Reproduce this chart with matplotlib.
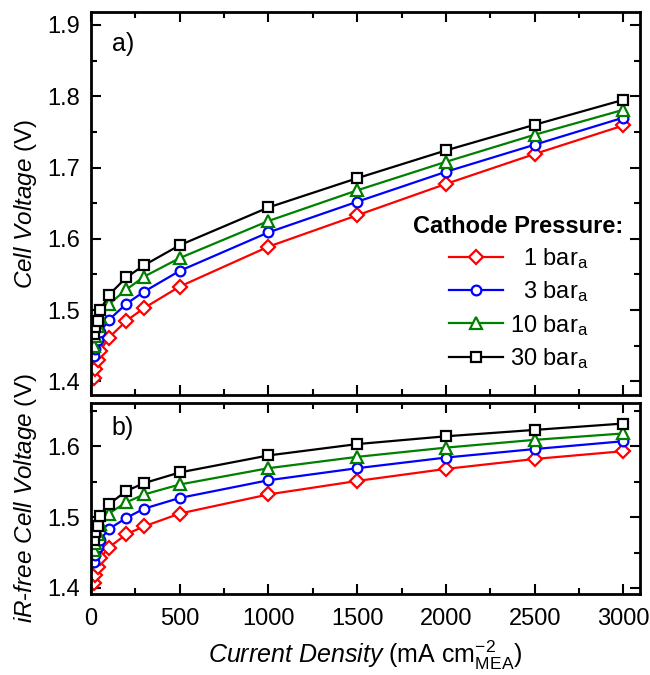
import matplotlib
matplotlib.use("Agg")
import matplotlib.pyplot as plt
from matplotlib.ticker import MultipleLocator

plt.rcParams['font.family'] = ['Liberation Sans', 'DejaVu Sans']
plt.rcParams['mathtext.fontset'] = 'custom'
plt.rcParams['mathtext.rm'] = 'Liberation Sans'
plt.rcParams['mathtext.it'] = 'Liberation Sans:italic'
plt.rcParams['mathtext.bf'] = 'Liberation Sans:bold'

current = [15, 25, 37, 52, 100, 200, 300, 500, 1000, 1500, 2000, 2500, 3000]
labels = ['  1 bar$_\\mathregular{a}$', '  3 bar$_\\mathregular{a}$',
          '10 bar$_\\mathregular{a}$', '30 bar$_\\mathregular{a}$']

cell_1bar = [1.405, 1.418, 1.430, 1.443, 1.461, 1.485, 1.503, 1.533, 1.589, 1.633, 1.677, 1.719, 1.759]
cell_3bar = [1.435, 1.446, 1.458, 1.469, 1.486, 1.509, 1.526, 1.555, 1.609, 1.652, 1.694, 1.732, 1.770]
cell_10bar = [1.450, 1.464, 1.477, 1.490, 1.508, 1.529, 1.547, 1.573, 1.625, 1.668, 1.708, 1.746, 1.781]
cell_30bar = [1.467, 1.476, 1.485, 1.500, 1.521, 1.546, 1.563, 1.591, 1.644, 1.685, 1.724, 1.760, 1.795]

irfree_1bar = [1.407, 1.418, 1.430, 1.442, 1.457, 1.476, 1.487, 1.505, 1.532, 1.551, 1.568, 1.582, 1.593]
irfree_3bar = [1.437, 1.447, 1.458, 1.468, 1.483, 1.499, 1.512, 1.527, 1.552, 1.569, 1.584, 1.596, 1.607]
irfree_10bar = [1.453, 1.463, 1.476, 1.490, 1.505, 1.521, 1.532, 1.546, 1.569, 1.585, 1.598, 1.609, 1.618]
irfree_30bar = [1.468, 1.479, 1.488, 1.501, 1.518, 1.537, 1.548, 1.563, 1.587, 1.603, 1.614, 1.623, 1.632]

colors = ['#ff0000', '#0000ff', '#008000', '#000000']
markers = ['D', 'o', '^', 's']
msizes = [7, 7, 8, 6.5]

fig = plt.figure(figsize=(6.5, 6.75), dpi=100)
ax1 = fig.add_axes([0.14, 0.415, 0.845, 0.567])
ax2 = fig.add_axes([0.14, 0.12, 0.845, 0.283])

top_series = [cell_1bar, cell_3bar, cell_10bar, cell_30bar]
bot_series = [irfree_1bar, irfree_3bar, irfree_10bar, irfree_30bar]

for ax, series in ((ax1, top_series), (ax2, bot_series)):
    for y, c, m, ms, lab in zip(series, colors, markers, msizes, labels):
        ax.plot(current, y, color=c, marker=m, ms=ms, mfc='white', mec=c,
                mew=1.6, lw=1.6, label=lab)
    ax.set_xlim(0, 3095)
    ax.xaxis.set_major_locator(MultipleLocator(500))
    ax.xaxis.set_minor_locator(MultipleLocator(250))
    ax.yaxis.set_major_locator(MultipleLocator(0.1))
    ax.yaxis.set_minor_locator(MultipleLocator(0.05))
    ax.tick_params(which='both', direction='in', top=True, right=True,
                   labelsize=17, width=1.5)
    ax.tick_params(which='major', length=7)
    ax.tick_params(which='minor', length=4)
    ax.tick_params(axis='x', which='both', pad=10)
    ax.tick_params(axis='y', which='both', pad=8)
    for s in ax.spines.values():
        s.set_linewidth(2)

ax1.set_ylim(1.381, 1.918)
ax2.set_ylim(1.3915, 1.661)
ax1.tick_params(labelbottom=False)

ax1.set_ylabel('$\\mathit{Cell\\ Voltage}$ (V)', fontsize=17.5, labelpad=6)
ax2.set_ylabel('$\\mathit{iR}$-$\\mathit{free\\ Cell\\ Voltage}$ (V)', fontsize=17.5, labelpad=6)
ax2.set_xlabel('$\\mathit{Current\\ Density}$ (mA cm$^{-2}_{\\mathregular{MEA}}$)', fontsize=18, labelpad=6)
fig.align_ylabels([ax1, ax2])

ax1.text(0.038, 0.916, 'a)', transform=ax1.transAxes, fontsize=18, va='center')
ax2.text(0.038, 0.87, 'b)', transform=ax2.transAxes, fontsize=18, va='center')

leg = ax1.legend(loc='lower right', bbox_to_anchor=(1.0, 0.02), frameon=False,
                 fontsize=17, title='Cathode Pressure:',
                 title_fontproperties={'weight': 'bold', 'size': 17},
                 handlelength=2.3, handletextpad=0.3, labelspacing=0.35,
                 borderaxespad=0.3)

fig.savefig('out.png', dpi=100)
